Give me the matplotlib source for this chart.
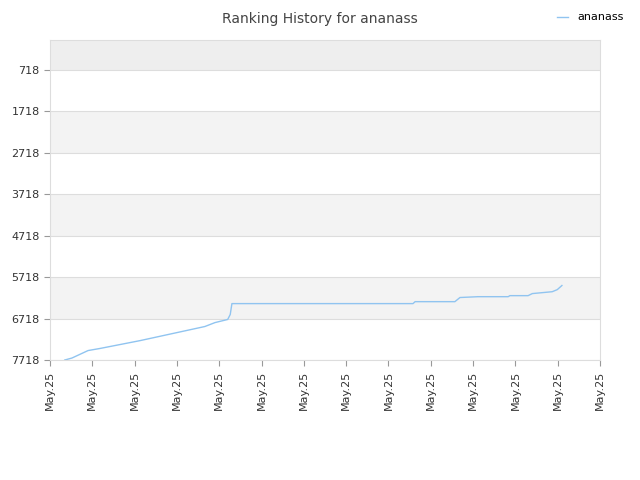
import matplotlib.pyplot as plt

# x positions in tick units (0..13), ranks
x_pos = [0.35, 0.52, 0.9, 1.18, 2.13, 3.66, 3.9, 4.2, 4.26, 4.3, 8.58, 8.63, 9.57, 9.69, 10.12, 10.83, 10.87, 11.3, 11.4, 11.87, 11.99, 12.1]
ranks = [7718, 7670, 7490, 7440, 7250, 6910, 6815, 6740, 6620, 6357, 6357, 6310, 6310, 6210, 6190, 6190, 6165, 6165, 6115, 6070, 6020, 5920]
y_ticks = [718, 1718, 2718, 3718, 4718, 5718, 6718, 7718]
x_labels = ["May.25"] * 14

fig = plt.figure(figsize=(6.4, 4.8), dpi=100)
ax = fig.add_axes([50 / 640, 120 / 480, 550 / 640, 320 / 480])

ax.set_ylim(7718, -5)
ax.set_xlim(0, 13)

# alternating horizontal bands
edges = [-5] + y_ticks
for i in range(len(edges) - 1):
    if i % 2 == 0:
        col = "#eeeeee" if i == 0 else "#f3f3f3"
        ax.axhspan(edges[i], edges[i + 1], color=col, zorder=0, lw=0)

ax.plot(x_pos, ranks, color="#90c4f0", lw=1, label="ananass", zorder=2)

ax.set_yticks(y_ticks)
ax.set_yticklabels([str(v) for v in y_ticks], fontsize=8, color="#333333")
ax.set_xticks(range(14))
ax.set_xticklabels(x_labels, rotation=90, fontsize=8, color="#333333")
ax.grid(axis="y", color="#dddddd", lw=0.8)
ax.set_axisbelow(True)
for s in ax.spines.values():
    s.set_color("#dddddd")
ax.tick_params(colors="#999999", labelcolor="#333333", length=4)

fig.text(0.5, 0.975, "Ranking History for ananass", ha="center", va="top", fontsize=10, color="#444444")
fig.legend(loc="upper right", bbox_to_anchor=(0.99, 0.995), frameon=False, fontsize=8, handlelength=1)

fig.savefig("out.png", dpi=100)
